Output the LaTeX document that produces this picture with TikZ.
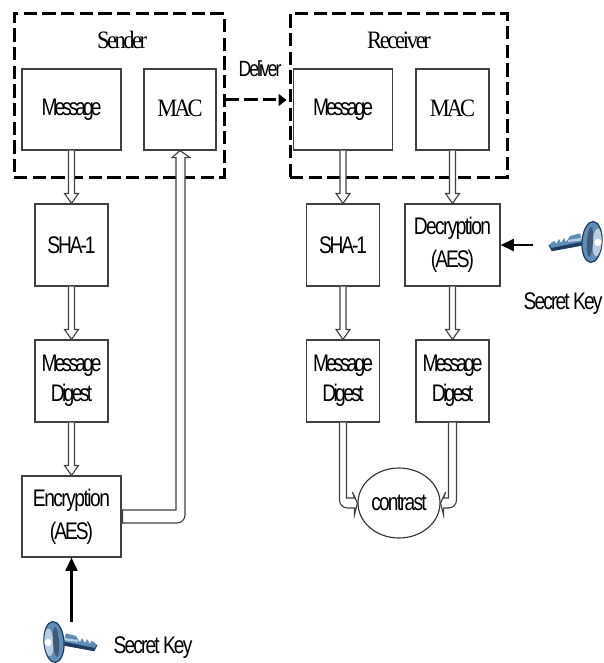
\documentclass[tikz,border=0pt]{standalone}
\usepackage{fontspec}
\usetikzlibrary{arrows.meta,calc,shapes.geometric}
\setmainfont{Liberation Sans}[FakeStretch=.8]
\newfontfamily\serifface{Liberation Serif}[FakeStretch=.9]
\newcommand{\ls}[2]{{\addfontfeature{LetterSpace=#1}#2}}
\newcommand{\hollowdown}[2]{%
  \draw[hollow] ($(#1.south)+(-3,0)$) -- ($(#2.north)+(-3,-10)$) -- ($(#2.north)+(-7,-10)$)
    -- (#2.north) -- ($(#2.north)+(7,-10)$) -- ($(#2.north)+(3,-10)$) -- ($(#1.south)+(3,0)$);}
\tikzset{
  x=.75pt,y=-.75pt,
  box/.style={draw=black!75,line width=.85pt,inner sep=0pt,align=center,font=\fontsize{18pt}{22.5pt}\selectfont},
  wide/.style={box,minimum width=99*.75pt,minimum height=81*.75pt},
  narrow/.style={box,minimum width=73*.75pt,minimum height=82*.75pt},
  twoline/.style={font=\fontsize{18pt}{24.7pt}\selectfont},
  group/.style={draw=black,line width=2.25pt,dash pattern=on 10pt off 4pt,inner sep=0pt},
  label/.style={inner sep=0pt,font=\fontsize{18pt}{20pt}\selectfont},
  serifl/.style={inner sep=0pt,font=\fontsize{18.75pt}{20pt}\selectfont\serifface},
  maclabel/.style={font=\fontsize{18.75pt}{20pt}\selectfont\serifface},
  hollow/.style={draw=black!75,line width=.85pt,fill=white,line join=miter},
  keyarrow/.style={draw=black,line width=1.6pt,-{Triangle[length=10pt,width=9pt]}},
  dasharrow/.style={draw=black,line width=2.25pt,dash pattern=on 10pt off 4pt,-{Triangle[length=6pt,width=9pt]}},
  bluekey/.pic={
    \fill[keyblue] (-9,3) -- (-40,8.7) -- (-43,3) -- (-40,0) -- (-37,-1) -- (-36,2) -- (-33,-3) -- (-31,1) -- (-28,-4) -- (-26,0) -- (-22,-6) -- (-12,-8.7) -- cycle;
    \draw[keynavy,line width=.7pt] (-9,3) -- (-40,8.7) -- (-43,3);
    \fill[keynavy] (-11,3.4) -- (-40,8.7) -- (-41,6) -- (-11,0) -- cycle;
    \fill[keylight] (-11,-4) -- (-24,-2) -- (-24,0) -- (-11,-1.5) -- cycle;
    \draw[keynavy,line width=.9pt,fill=keyblue,rotate=-4] (0,0) ellipse [x radius=10,y radius=20.5];
    \fill[keylight,rotate=-4] (5,0) ellipse [x radius=4.5,y radius=14];
    \fill[keynavy!85,rotate=-4] (-2,0) ellipse [x radius=3,y radius=15];
    \fill[white,rotate=-4] (6,0) circle [radius=3.6];
  },
}
\definecolor{keyblue}{HTML}{5F8DB5}
\definecolor{keynavy}{HTML}{1E3C60}
\definecolor{keylight}{HTML}{B7CEE2}
\begin{document}
\begin{tikzpicture}
\useasboundingbox (0,0) rectangle (603,663);
% groups
\node[group,minimum width=210*.75pt,minimum height=163*.75pt] (sender) at (119,95.5) {};
\node[group,minimum width=217*.75pt,minimum height=163*.75pt] (receiver) at (398.5,95.5) {};
\node[serifl] (sl) at (122,40) {\ls{-10}{Sender}};
\node[serifl] (rl) at (399,40) {\ls{-9.2}{Receiver}};
% left column
\node[wide] (m1) at (71.5,109.5) {\ls{-12.5}{Message}};
\node[box,minimum width=72*.75pt,minimum height=81*.75pt,maclabel] (mac1) at (180,109.5) {\raisebox{2pt}{\ls{-12}{MAC}}};
\node[narrow] (sha1) at (71.5,245) {\ls{-8.9}{SHA-1}};
\node[narrow] (md1) at (71.5,381) {\ls{-12.5}{Message}\\\ls{-11}{Digest}};
\node[wide,twoline] (enc) at (71.5,516.5) {\ls{-6.3}{Encryption}\\\ls{-8.3}{(AES)}};
% right column
\node[wide] (m2) at (343,109.5) {\ls{-12.5}{Message}};
\node[box,minimum width=73*.75pt,minimum height=81*.75pt,maclabel] (mac2) at (452.5,109.5) {\raisebox{2pt}{\ls{-12}{MAC}}};
\node[narrow] (sha2) at (343,245) {\ls{-8.9}{SHA-1}};
\node[box,twoline,minimum width=95*.75pt,minimum height=82*.75pt] (dec) at (452.5,245) {\ls{-6.8}{Decryption}\\\ls{-8.3}{(AES)}};
\node[narrow] (md2) at (343,381) {\ls{-12.5}{Message}\\\ls{-11}{Digest}};
\node[narrow] (md3) at (452.5,381) {\ls{-12.5}{Message}\\\ls{-11}{Digest}};
\node[draw=black!80,line width=.85pt,ellipse,inner sep=0pt,minimum width=82*.75pt,minimum height=70*.75pt,font=\fontsize{18pt}{20pt}\selectfont] (cmp) at (399,503) {\ls{-7.8}{contrast}};
% hollow arrows
\hollowdown{m1}{sha1}
\hollowdown{sha1}{md1}
\hollowdown{md1}{enc}
\hollowdown{m2}{sha2}
\hollowdown{sha2}{md2}
\hollowdown{mac2}{dec}
\hollowdown{dec}{md3}
% encryption to MAC
\coordinate (hl) at ($(mac1.south)+(-4,7)$);
\coordinate (hr) at ($(mac1.south)+(5,7)$);
\coordinate (el) at ($(enc.east)+(1,-6.5)$);
\coordinate (er) at ($(enc.east)+(1,6.5)$);
\draw[hollow] (el) -- (hl |- el) -- (hl) -- ($(hl)+(-4,0)$) -- (mac1.south) -- ($(hr)+(5,0)$) -- (hr)
  [rounded corners=6pt] -- (hr |- er) [sharp corners] -- (er) -- cycle;
% contrast arrows
\coordinate (cl) at ($(md2.south)+(3.5,0)$);
\coordinate (co) at ($(md2.south)+(-3.5,0)$);
\coordinate (ci) at ($(cmp.west)+(-3,-5)$);
\coordinate (cb) at ($(cmp.west)+(-3,5)$);
\draw[hollow] (cl) -- (cl |- ci) -- (ci) -- ($(cmp.west)+(-5,-11)$) -- (cmp.west) -- ($(cmp.west)+(-3,12)$) -- (cb)
  [rounded corners=6pt] -- (co |- cb) [sharp corners] -- (co);
\coordinate (dl) at ($(md3.south)+(-4,0)$);
\coordinate (do) at ($(md3.south)+(4,0)$);
\coordinate (di) at ($(cmp.east)+(3,-5)$);
\coordinate (db) at ($(cmp.east)+(3,5)$);
\draw[hollow] (dl) -- (dl |- di) -- (di) -- ($(cmp.east)+(5,-11)$) -- (cmp.east) -- ($(cmp.east)+(3,12)$) -- (db)
  [rounded corners=6pt] -- (do |- db) [sharp corners] -- (do);
% deliver
\node[label,font=\fontsize{16.5pt}{18pt}\selectfont] (dv) at (260,69) {\ls{-9}{Deliver}};
\draw[dasharrow] ($(sender.east)+(0,4.5)$) -- ($(receiver.west)+(-2,4.5)$);
% keys
\pic (k1) at (592,242) {bluekey};
\pic[xscale=-1] (k2) at (54,642) {bluekey};
\coordinate (ka) at (533,245);
\coordinate (kb) at (71.5,622);
\draw[keyarrow] (ka) -- (dec.east |- ka);
\draw[keyarrow] (kb) -- (enc.south);
\node[label] (s1) at (563,304) {\ls{-7.9}{Secret Key}};
\node[label] (s2) at (153,648) {\ls{-7.9}{Secret Key}};
\end{tikzpicture}
\end{document}
